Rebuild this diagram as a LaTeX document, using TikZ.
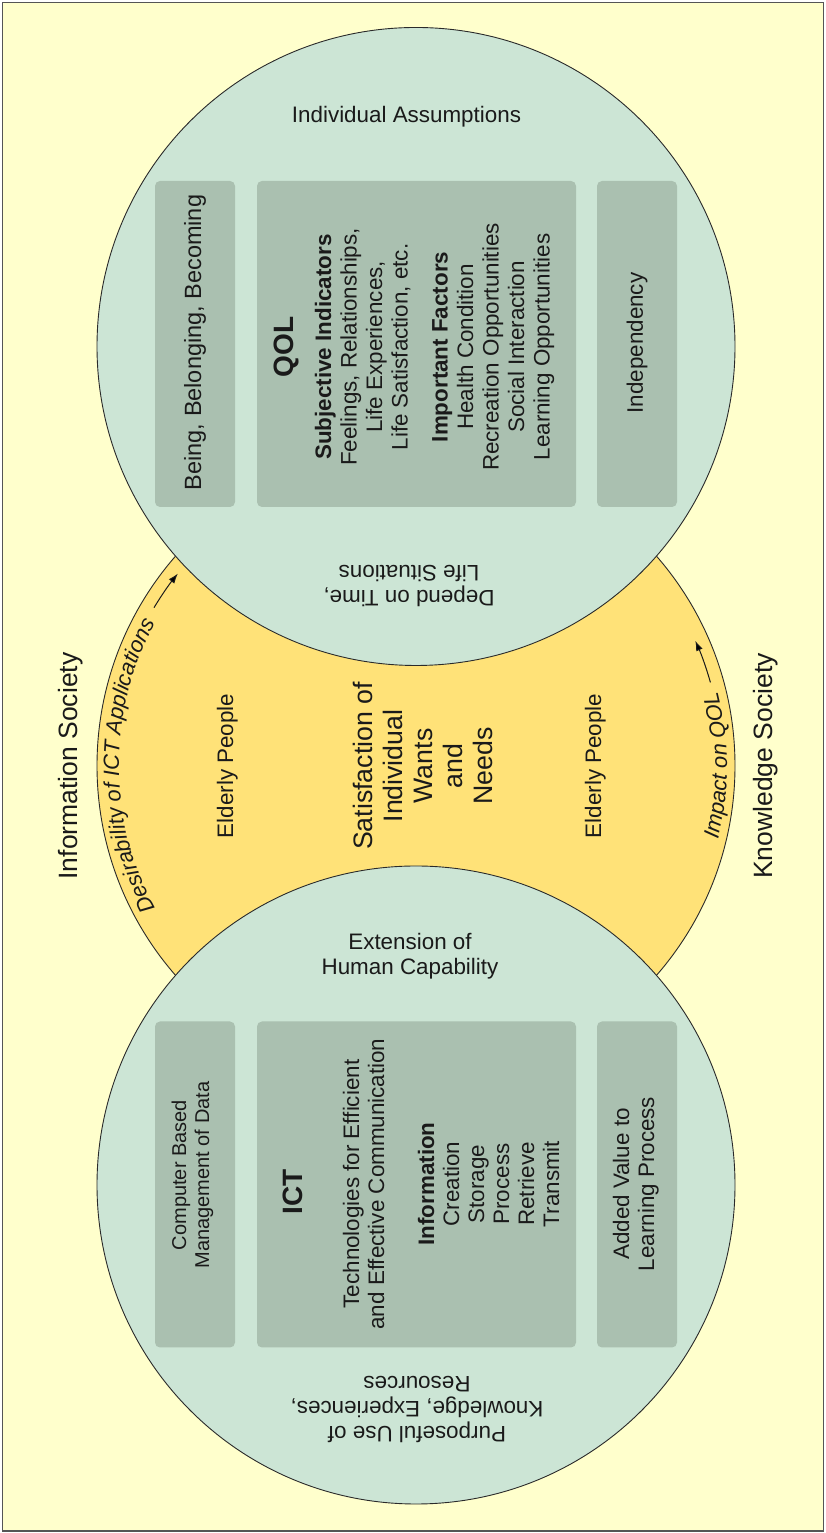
\documentclass[tikz,border=0pt]{standalone}
\usepackage{fontspec}
\setmainfont{Liberation Sans}
\usetikzlibrary{arrows.meta, decorations.text, calc}

\definecolor{paper}{HTML}{FFFFCC}
\definecolor{framegray}{HTML}{555555}
\definecolor{lens}{HTML}{FFE278}
\definecolor{disc}{HTML}{CCE5D5}
\definecolor{panel}{HTML}{AAC0B0}
\definecolor{rim}{HTML}{2A2A2A}
\definecolor{ink}{HTML}{1A1A1A}

\begin{document}
\begin{tikzpicture}[x=1pt, y=1pt,
  every node/.style={inner sep=0pt, outer sep=0pt, text=ink},
  disk/.style={circle, draw=rim, line width=0.9pt, minimum size=638pt},
  card/.style={rectangle, rounded corners=5pt, fill=panel, minimum height=326pt},
  body/.style={font=\fontsize{22.4}{25}\selectfont},
  boldline/.style={font=\fontsize{22.4}{25}\selectfont\bfseries},
  headline/.style={font=\fontsize{28}{32}\selectfont\bfseries},
  bigline/.style={font=\fontsize{26.7}{30}\selectfont},
  society/.style={font=\fontsize{26.5}{30}\selectfont},
  smallline/.style={font=\fontsize{20}{23}\selectfont},
  wideline/.style={font=\fontsize{23.5}{26}\selectfont},
  vline/.style={rotate=90, anchor=base},
  pointer/.style={-{Latex[length=10pt,width=7pt]}, line width=1pt, draw=ink}
]
\useasboundingbox (0,0) rectangle (826,1533);
\fill[white] (0,0) rectangle (826,1533);
\draw[framegray, line width=1.5pt, fill=paper] (2.5,2) rectangle (823.5,1530.5);

% three discs: the yellow one in the middle lies under the two green ones
\node[disk, fill=lens] (mid) at (416,767.25) {};
\node[disk, fill=disc] (top) at (416,1186.5) {};
\node[disk, fill=disc] (bot) at (416,348) {};

% panels in the upper disc
\node[card, minimum width=80pt]  (being) at (195,1189) {};
\node[card, minimum width=319pt] (qol)   at (416.5,1189) {};
\node[card, minimum width=80pt]  (indep) at (637,1189) {};

% panels in the lower disc
\node[card, minimum width=80pt]  (comp)  at (195,348.5) {};
\node[card, minimum width=319pt] (ict)   at (416.5,348.5) {};
\node[card, minimum width=80pt]  (added) at (637,348.5) {};

% upper disc texts
\node[body, anchor=base] (assume) at (406.5,1410) {Individual Assumptions};
\node[wideline, rotate=90] (beingT) at (195,1190.5) {Being, Belonging, Becoming};
\node[headline, vline] (qolT) at (293,1186) {QOL};
\node[boldline, vline] (qol1) at (331,1186) {Subjective Indicators};
\node[body, vline] (qol2) at (356.5,1186) {Feelings, Relationships,};
\node[body, vline] (qol3) at (382,1186) {Life Experiences,};
\node[body, vline] (qol4) at (407.5,1186) {Life Satisfaction, etc.};
\node[boldline, vline] (qol5) at (447.5,1186) {Important Factors};
\node[body, vline] (qol6) at (473,1186) {Health Condition};
\node[body, vline] (qol7) at (498.5,1186) {Recreation Opportunities};
\node[body, vline] (qol8) at (524,1186) {Social Interaction};
\node[body, vline] (qol9) at (549.5,1186) {Learning Opportunities};
\node[body, rotate=90] (indepT) at (637,1190) {Independency};
\node[body, rotate=180, align=center] (depend) at (409,946.5) {Depend on Time,\\Life Situations};

% middle band
\node[society, vline] (infoS) at (77,767) {Information Society};
\node[society, vline] (knowS) at (772,767) {Knowledge Society};
\node[body, vline] (eldL) at (233,767) {Elderly People};
\node[body, vline] (eldR) at (601,767) {Elderly People};
\node[bigline, vline] (sat1) at (372,767) {Satisfaction of};
\node[bigline, vline] (sat2) at (402,767) {Individual};
\node[bigline, vline] (sat3) at (432,767) {Wants};
\node[bigline, vline] (sat4) at (462,767) {and};
\node[bigline, vline] (sat5) at (492,767) {Needs};

% curved captions along the yellow rim
\path[decorate, decoration={text along path, text align=center, text color=ink,
  text={|\fontsize{22}{24}\selectfont\itshape|Desirability of ICT Applications}}]
  ($(mid.center)+(212:297)$) arc[start angle=212, end angle=148, radius=297];
\path[decorate, decoration={text along path, text align=center, text color=ink,
  text={|\fontsize{22}{24}\selectfont\itshape|Impact on QOL}}]
  ($(mid.center)+(-20:311)$) arc[start angle=-20, end angle=20, radius=311];

\coordinate (desStart) at ($(mid.center)+(148.9:306)$);
\draw[pointer] (desStart) arc[start angle=148.9, end angle=141.1, radius=306];
\coordinate (impStart) at ($(mid.center)+(15.8:306)$);
\draw[pointer] (impStart) arc[start angle=15.8, end angle=24.1, radius=306];

% lower disc texts
\node[body, align=center] (ext) at (410,577) {Extension of\\Human Capability};
\node[smallline, vline] (comp1) at (186,358) {Computer Based};
\node[smallline, vline] (comp2) at (209,358) {Management of Data};
\node[headline, vline] (ictT) at (302,341) {ICT};
\node[body, vline] (ict1) at (359,349) {Technologies for Efficient};
\node[body, vline] (ict2) at (384,349) {and Effective Communication};
\node[boldline, vline] (ict3) at (434,349) {Information};
\node[body, vline] (ict4) at (459,349) {Creation};
\node[body, vline] (ict5) at (484,349) {Storage};
\node[body, vline] (ict6) at (509,349) {Process};
\node[body, vline] (ict7) at (534,349) {Retrieve};
\node[body, vline] (ict8) at (559,349) {Transmit};
\node[body, vline] (add1) at (629,349) {Added Value to};
\node[body, vline] (add2) at (654,349) {Learning Process};
\node[body, rotate=180, align=center] (purpose) at (417,123) {Purposeful Use of\\Knowledge, Experiences,\\Resources};
\end{tikzpicture}
\end{document}
